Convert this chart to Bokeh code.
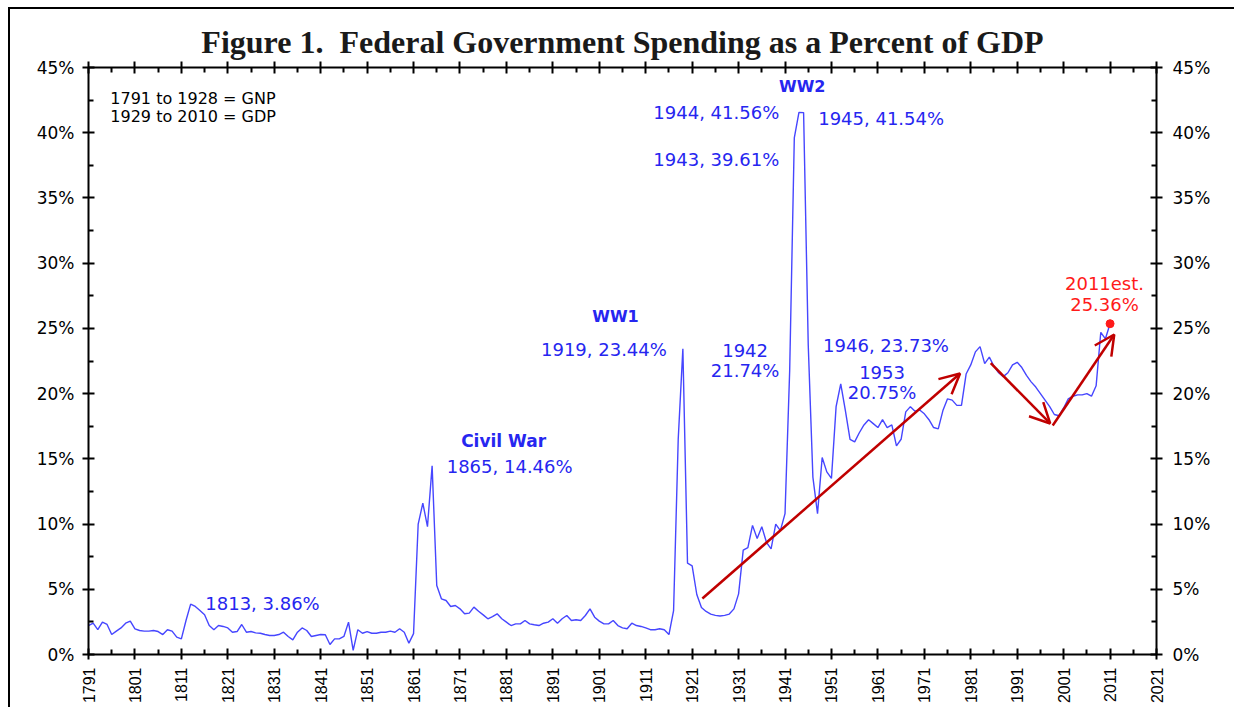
import math
from bokeh.plotting import figure
from bokeh.models import (FixedTicker, LinearAxis, PrintfTickFormatter, Label,
                          Arrow, OpenHead, Range1d, Title)
from bokeh.embed import file_html
from bokeh.resources import INLINE

# ---------------- data ----------------
years = list(range(1791, 2012))

spend_1791_1860 = [2.22, 2.4, 1.9, 2.48, 2.3, 1.53, 1.79, 2.04, 2.4, 2.56,
                   1.97, 1.84, 1.79, 1.79, 1.84, 1.76, 1.53, 1.9, 1.79, 1.33,
                   1.2, 2.61, 3.86, 3.68, 3.37, 3.04, 2.22, 1.9, 2.22, 2.15,
                   2.04, 1.71, 1.76, 2.3, 1.71, 1.76, 1.66, 1.63, 1.53, 1.46,
                   1.46, 1.53, 1.71, 1.38, 1.12, 1.71, 2.04, 1.84, 1.38, 1.46,
                   1.53, 1.51, 0.77, 1.2, 1.2, 1.38, 2.48, 0.31, 1.9, 1.63,
                   1.76, 1.63, 1.63, 1.71, 1.71, 1.79, 1.71, 1.97, 1.71, 0.87]
spend_1861_1916 = [1.6, 10.0, 11.6, 9.8, 14.46, 5.29, 4.27, 4.14, 3.68, 3.76,
                   3.5, 3.12, 3.17, 3.63, 3.32, 3.04, 2.74, 2.91, 3.12, 2.74,
                   2.48, 2.22, 2.35, 2.35, 2.61, 2.35, 2.28, 2.22, 2.4, 2.48,
                   2.74, 2.4, 2.74, 2.99, 2.61, 2.66, 2.61, 2.99, 3.5, 2.86,
                   2.56, 2.35, 2.35, 2.61, 2.22, 2.04, 1.97, 2.4, 2.22, 2.15,
                   2.04, 1.9, 1.9, 1.97, 1.9, 1.53]
spend_1917_1945 = [3.37, 16.5, 23.44, 7.0, 6.8, 4.6, 3.6, 3.3, 3.1, 3.0,
                   2.95, 3.0, 3.1, 3.5, 4.65, 8.0, 8.2, 9.9, 8.9, 9.8,
                   8.6, 8.1, 10.0, 9.5, 10.8, 21.74, 39.61, 41.56, 41.54]
spend_1946_2011 = [23.73, 13.6, 10.8, 15.1, 14.0, 13.5, 19.0, 20.75, 18.7, 16.5,
                   16.3, 17.0, 17.6, 18.0, 17.7, 17.4, 18.0, 17.4, 17.6, 16.0,
                   16.5, 18.6, 19.0, 18.65, 18.75, 18.45, 18.0, 17.4, 17.3, 18.7,
                   19.6, 19.5, 19.1, 19.1, 21.5, 22.2, 23.2, 23.6, 22.3, 22.8,
                   22.1, 21.6, 21.3, 21.6, 22.2, 22.4, 22.0, 21.4, 20.9, 20.5,
                   20.0, 19.5, 19.0, 18.4, 18.3, 18.9, 19.6, 19.8, 19.9, 19.9,
                   20.0, 19.8, 20.6, 24.7, 24.2, 25.36]
spending = spend_1791_1860 + spend_1861_1916 + spend_1917_1945 + spend_1946_2011

estimate_year = [2011]
estimate_value = [25.36]

x_major = list(range(1791, 2022, 10))
x_minor = list(range(1796, 2022, 10))
y_major = list(range(0, 46, 5))
y_minor = [v + 2.5 for v in range(0, 45, 5)]

# trend arrows (year, percent)
arrow_x0 = [1923.2, 1985.3, 1998.65]
arrow_y0 = [4.29, 22.33, 17.56]
arrow_x1 = [1978.7, 1998.1, 2011.9]
arrow_y1 = [21.54, 17.71, 24.53]

TITLE = "Figure 1.\u00a0 Federal Government Spending as a Percent of GDP"

# ---------------- figure ----------------
W, H = 1226, 700
p = figure(width=W, height=H, x_range=Range1d(1791, 2021), y_range=Range1d(0, 45),
           output_backend="svg", toolbar_location=None,
           x_axis_location=None, y_axis_location=None,
           min_border_left=78, min_border_right=80, min_border_top=58,
           min_border_bottom=55)
p.grid.visible = False
p.outline_line_color = None
p.background_fill_color = "white"
p.border_fill_color = "white"
p.styles = {"border-left": "2px solid black", "border-top": "2px solid black",
            "margin-left": "8px", "margin-top": "7px"}

FONT = "DejaVu Sans"


def style_axis(ax):
    ax.axis_line_width = 2
    ax.axis_line_color = "black"
    ax.major_tick_line_width = 2
    ax.minor_tick_line_width = 2
    ax.major_tick_line_color = "black"
    ax.minor_tick_line_color = "black"
    ax.major_tick_in = 6
    ax.major_tick_out = 6
    ax.minor_tick_in = 5
    ax.minor_tick_out = 0
    ax.major_label_text_color = "black"


xt = FixedTicker(ticks=x_major, minor_ticks=x_minor)
yt = FixedTicker(ticks=y_major, minor_ticks=y_minor)

# top axis first so that it sits directly on the frame
top = LinearAxis(ticker=xt)
style_axis(top)
top.major_label_overrides = {t: "" for t in x_major}
top.major_label_text_font_size = "0px"
top.major_label_standoff = 0
p.add_layout(top, "above")

title = Title(text=TITLE, align="center", text_font="Liberation Serif",
              text_font_size="32px", text_font_style="bold", text_color="#1a1a1a",
              standoff=4, offset=-4)
p.add_layout(title, "above")

bottom = LinearAxis(ticker=xt)
style_axis(bottom)
bottom.major_tick_out = 5
bottom.major_label_orientation = math.pi / 2
bottom.major_label_text_font = "Liberation Sans"
bottom.major_label_text_font_size = "16px"
bottom.major_label_standoff = 8
p.add_layout(bottom, "below")

for side in ("left", "right"):
    ax = LinearAxis(ticker=yt, formatter=PrintfTickFormatter(format="%d%%"))
    style_axis(ax)
    ax.major_label_text_font = FONT
    ax.major_label_text_font_size = "17px"
    ax.major_label_standoff = 8 if side == "left" else 10
    p.add_layout(ax, side)

# ---------------- data marks ----------------
p.line(years, spending, line_color="#4646FF", line_width=1.4)
p.scatter(estimate_year, estimate_value, size=8, color="#FF1A1A")

for xs, ys, xe, ye in zip(arrow_x0, arrow_y0, arrow_x1, arrow_y1):
    p.add_layout(Arrow(x_start=xs, y_start=ys, x_end=xe, y_end=ye,
                       line_color="#C00000", line_width=2.5,
                       end=OpenHead(size=20, line_color="#C00000", line_width=2.5)))

# ---------------- texts ----------------
BLUE = "#2626F0"
RED = "#FF1A1A"


def lab(x, y, text, color=BLUE, size="18px", align="center", bold=False, font=FONT,
        baseline="middle"):
    p.add_layout(Label(x=x, y=y, text=text, text_color=color, text_font_size=size,
                       text_align=align, text_baseline=baseline,
                       text_font=font,
                       text_font_style="bold" if bold else "normal"))


lab(1795.7, 42.6, "1791 to 1928 = GNP", color="black", size="16px", align="left")
lab(1795.7, 41.25, "1929 to 2010 = GDP", color="black", size="16px", align="left")
lab(1816.15, 3.9, "1813, 3.86%", align="left")
lab(1880.4, 16.33, "Civil War", size="17px", bold=True)
lab(1881.7, 14.41, "1865, 14.46%")
lab(1904.5, 25.9, "WW1", size="16px", bold=True)
lab(1902.0, 23.38, "1919, 23.44%")
lab(1932.4, 23.3, "1942")
lab(1932.4, 21.77, "21.74%")
lab(1944.7, 43.55, "WW2", size="16px", bold=True)
lab(1926.2, 41.55, "1944, 41.56%")
lab(1926.2, 37.95, "1943, 39.61%")
lab(1961.7, 41.09, "1945, 41.54%")
lab(1962.75, 23.69, "1946, 23.73%")
lab(1961.9, 21.62, "1953")
lab(1961.9, 20.09, "20.75%")
lab(2009.8, 28.44, "2011est.", color=RED)
lab(2009.8, 26.83, "25.36%", color=RED)

open("out.html", "w").write(file_html(p, INLINE))
